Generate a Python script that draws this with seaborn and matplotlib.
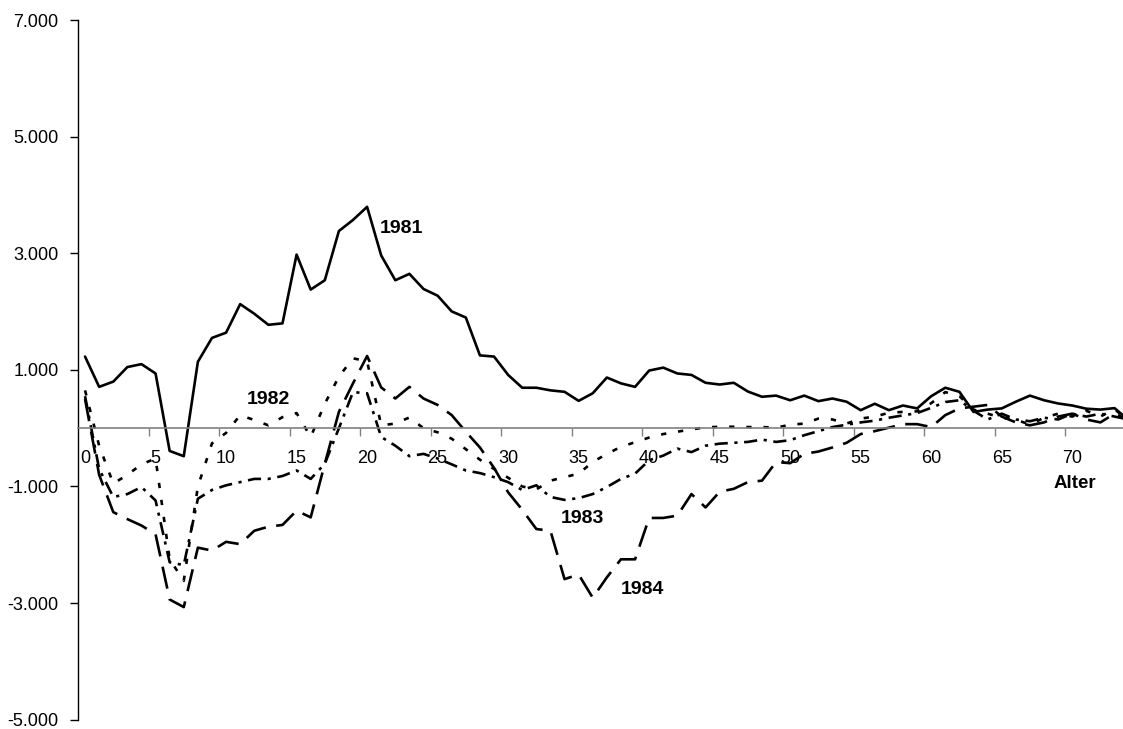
import matplotlib
matplotlib.use("Agg")
import matplotlib.pyplot as plt
import pandas as pd
import seaborn as sns

ages = list(range(75))

v1981 = [1230, 710, 800, 1050, 1100, 940, -390, -480, 1140, 1550,
         1640, 2130, 1965, 1775, 1800, 2980, 2380, 2540, 3385, 3575,
         3800, 2965, 2540, 2650, 2390, 2275, 2005, 1900, 1250, 1230,
         915, 695, 695, 650, 625, 470, 600, 870, 770, 710,
         990, 1040, 940, 915, 780, 750, 780, 630, 540, 560,
         480, 560, 465, 510, 455, 310, 420, 310, 390, 340,
         550, 695, 625, 280, 320, 340, 455, 560, 480, 425,
         390, 335, 320, 345, 140]

v1982 = [650, -300, -950, -800, -620, -520, -2250, -2620, -1000, -260,
         -80, 225, 140, 50, 190, 260, -150, 420, 885, 1200,
         1150, 50, 80, 185, 0, -70, -180, -360, -540, -700,
         -850, -1000, -1050, -900, -840, -780, -580, -440, -320, -240,
         -160, -100, -60, -20, 15, 25, 25, 20, 20, 10,
         60, 80, 165, 150, 80, 165, 200, 265, 280, 290,
         430, 620, 550, 320, 250, 180, 150, 60, 180, 250,
         200, 300, 200, 330, 120]

v1983 = [550, -700, -1180, -1130, -1010, -1240, -2300, -2350, -1210, -1060,
         -980, -925, -870, -870, -820, -725, -870, -610, 0, 620,
         600, -150, -300, -480, -440, -520, -620, -725, -770, -840,
         -925, -1060, -980, -1180, -1230, -1200, -1130, -1010, -870, -780,
         -550, -470, -350, -410, -300, -265, -250, -235, -195, -235,
         -205, -120, -50, 20, 60, 100, 130, 180, 220, 260,
         350, 450, 480, 300, 150, 250, 150, 120, 180, 150,
         250, 200, 250, 200, 150]

v1984 = [500, -800, -1440, -1560, -1670, -1820, -2940, -3070, -2050, -2100,
         -1950, -1990, -1760, -1690, -1660, -1415, -1530, -610, 280, 770,
         1240, 700, 510, 710, 510, 400, 225, -60, -330, -680,
         -1100, -1400, -1730, -1760, -2590, -2510, -2910, -2560, -2250, -2250,
         -1540, -1540, -1500, -1130, -1360, -1090, -1040, -925, -900, -580,
         -600, -440, -400, -330, -250, -100, -50, 10, 70, 70,
         20, 225, 340, 370, 400, 200, 100, 50, 100, 200,
         250, 150, 100, 250, 150]

years = ["1981", "1982", "1983", "1984"]
y_ticks = [-5000, -3000, -1000, 1000, 3000, 5000, 7000]
y_tick_labels = ["-5.000", "-3.000", "-1.000", "1.000", "3.000", "5.000", "7.000"]
x_ticks = list(range(0, 71, 5))
x_tick_labels = [str(t) for t in x_ticks]
x_label = "Alter"

sns.set_theme(style="white")
plt.rcParams["font.family"] = ["Liberation Sans", "DejaVu Sans"]
plt.rcParams["text.color"] = "black"

df = pd.DataFrame({
    "age": ages * 4,
    "value": v1981 + v1982 + v1983 + v1984,
    "year": [y for y in years for _ in ages],
})

fig = plt.figure(figsize=(11.23, 7.29), dpi=100)
ax = fig.add_axes([78 / 1123, 0.013, 1 - 78 / 1123, 0.959])

sns.lineplot(
    data=df, x="age", y="value", hue="year", style="year",
    palette=["black"] * 4,
    dashes={"1981": "", "1982": (2, 4.5), "1983": (5, 2.5, 1.2, 2.5), "1984": (8.5, 4)},
    linewidth=1.9, legend=False, ax=ax,
)

ax.set_xlim(-0.5, 73.6)
ax.set_ylim(-5000, 7000)
ax.grid(False)
ax.set_xlabel("")
ax.set_ylabel("")

for s in ["top", "right"]:
    ax.spines[s].set_visible(False)
ax.spines["left"].set_color("black")
ax.spines["left"].set_linewidth(1.0)
ax.spines["bottom"].set_position(("data", 0))
ax.spines["bottom"].set_color("#808080")
ax.spines["bottom"].set_linewidth(1.2)

ax.set_yticks(y_ticks)
ax.set_yticklabels(y_tick_labels)
ax.tick_params(axis="y", which="major", length=6, width=1, direction="out",
               color="black", pad=8, labelsize=13, labelcolor="black", left=True)

ax.set_xticks(x_ticks)
ax.set_xticklabels(x_tick_labels)
ax.set_xticks([t - 0.5 for t in range(5, 75, 5)], minor=True)
ax.tick_params(axis="x", which="major", length=0, pad=16, labelsize=13,
               labelcolor="black", bottom=True)
ax.tick_params(axis="x", which="minor", length=6, width=1, direction="out",
               color="#808080", bottom=True)

ax.text(70.2, -950, x_label, fontsize=13.5, fontweight="bold", ha="center", va="center", color="black")
ax.text(22.4, 3430, "1981", fontsize=14, fontweight="bold", ha="center", va="center", color="black")
ax.text(12.97, 500, "1982", fontsize=14, fontweight="bold", ha="center", va="center", color="black")
ax.text(35.3, -1550, "1983", fontsize=14, fontweight="bold", ha="center", va="center", color="black")
ax.text(39.5, -2760, "1984", fontsize=14, fontweight="bold", ha="center", va="center", color="black")

fig.savefig("out.png", dpi=100)
